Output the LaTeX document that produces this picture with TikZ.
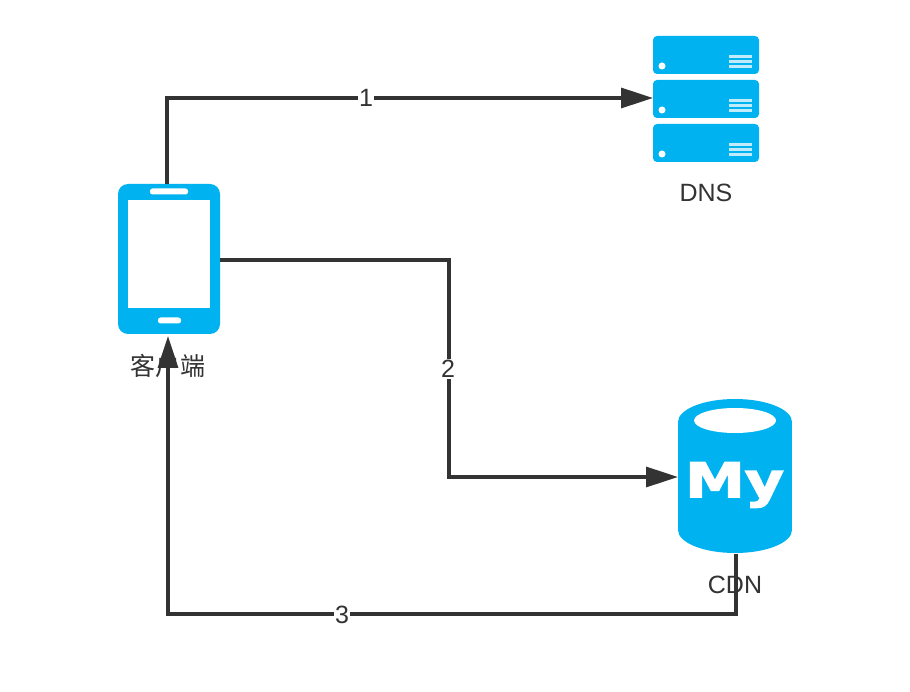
\documentclass[tikz,border=0pt]{standalone}
\usepackage{fontspec}
\setmainfont{Liberation Sans}
\newfontfamily\cjkfont{Noto Sans CJK SC}
\newfontfamily\iconfont[FakeBold=2.5]{DejaVu Sans Bold}
\usetikzlibrary{arrows.meta}
\definecolor{iconblue}{RGB}{0,178,240}
\definecolor{linedark}{RGB}{51,51,51}
\definecolor{textdark}{RGB}{51,51,51}
\tikzset{
  slab/.style={fill=iconblue,rounded corners=4pt,inner sep=0pt,outer sep=0pt,minimum width=106pt,minimum height=38pt},
  caption/.style={text=textdark,inner sep=0pt,font=\fontsize{25}{30}\selectfont},
  flowlabel/.style={text=textdark,fill=white,inner sep=1pt,font=\fontsize{25}{30}\selectfont},
  link/.style={draw=linedark,line width=3.2pt,line join=miter},
  arrowlink/.style={link,-{Triangle[length=32pt,width=20pt]}},
}
\begin{document}
\begin{tikzpicture}[x=1pt,y=-1pt]
\useasboundingbox[fill=white] (0,0) rectangle (910,692);

% phone
\node[fill=iconblue,rounded corners=10pt,inner sep=0pt,outer sep=0pt,minimum width=102pt,minimum height=150pt] (phone) at (169,259) {};
\fill[white] (128,200) rectangle (210,308);
\fill[white,rounded corners=2.5pt] (150,188.5) rectangle (188,194.5);
\fill[white,rounded corners=2.5pt] (158,317.5) rectangle (181,323.5);

% DNS stack
\node[slab] (dnsA) at (706,55) {};
\node[slab] (dnsB) at (706,99) {};
\node[slab] (dnsC) at (706,143) {};
\foreach \yy in {55,99,143}{
  \fill[white] (662,\yy+11) circle[radius=3.5];
  \foreach \dd in {2,7,12}
    \fill[white,opacity=.75] (729,\yy+\dd-1.5) rectangle (752,\yy+\dd+1.5);
}

% CDN cylinder
\node[inner sep=0pt,outer sep=0pt,minimum width=114pt,minimum height=154pt] (cdn) at (735,477) {};
\fill[iconblue] (735,422) ellipse[x radius=57,y radius=23];
\fill[iconblue] (735,530) ellipse[x radius=57,y radius=23];
\fill[iconblue] (678,422) rectangle (792,530);
\fill[white] (735,420.5) ellipse[x radius=41,y radius=12.5];
\node[text=white,inner sep=0pt,xscale=1.25,font=\iconfont\fontsize{48}{56}\selectfont] (my) at (734.5,485) {My};

% captions
\node[caption] (dnslabel) at (706,193) {DNS};
\node[caption] (cdnlabel) at (735,585) {CDN};
\node[caption,font=\cjkfont\fontsize{25}{30}\selectfont] (phonelabel) at (168,366) {客户端};

% connectors
\coordinate (bend) at (736,614);
\draw[arrowlink] ([xshift=-2pt]phone.north) |- ([yshift=1pt]dnsB.west);
\draw[arrowlink] ([yshift=-1pt]phone.east) -| (449,368) |- (cdn.west);
\draw[arrowlink] ([xshift=1pt]cdn.south) -- (bend) -| ([xshift=-1pt,yshift=-2pt]phone.south);

% connector labels
\node[flowlabel] (one) at (366,98) {1};
\node[flowlabel] (two) at (448,369) {2};
\node[flowlabel] (three) at (342,615) {3};
\end{tikzpicture}
\end{document}
